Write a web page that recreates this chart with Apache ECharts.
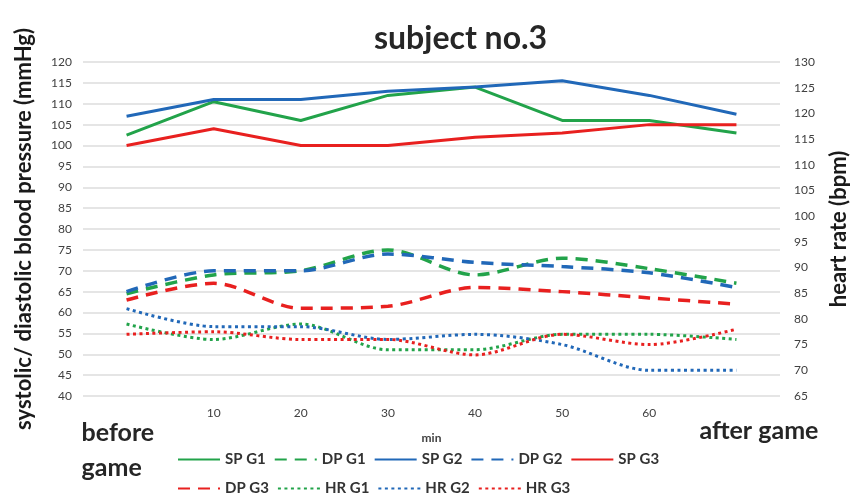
<!DOCTYPE html>
<html>
<head>
<meta charset="utf-8">
<script src="https://cdn.jsdelivr.net/npm/echarts@6/dist/echarts.min.js"></script>
<style>
  html, body { margin: 0; padding: 0; background: #fff; }
  #chart { width: 864px; height: 496px; }
</style>
</head>
<body>
<div id="chart"></div>
<script>
// Time points (minutes into the game)
const categories = ['before game', '10', '20', '30', '40', '50', '60', 'after game'];

// Blood pressure, mmHg (left axis)
const spG1 = [102.5, 110.5, 106, 112, 114, 106, 106, 103];
const dpG1 = [64.5, 69, 70, 75, 69, 73, 70.5, 67];
const spG2 = [107, 111, 111, 113, 114, 115.5, 112, 107.5];
const dpG2 = [65, 70, 70, 74, 72, 71, 69.5, 66];
const spG3 = [100, 104, 100, 100, 102, 103, 105, 105];
const dpG3 = [63, 67, 61, 61.5, 66, 65, 63.5, 62];

// Heart rate, bpm (right axis)
const hrG1 = [79, 76, 79, 74, 74, 77, 77, 76];
const hrG2 = [82, 78.5, 78.5, 76, 77, 75, 70, 70];
const hrG3 = [77, 77.5, 76, 76, 73, 77, 75, 78];

const GREEN = '#22a34a', BLUE = '#2168b8', RED = '#e8201f';
const FONT = 'Lato, "Open Sans", sans-serif';

function solid(name, data, color) {
  return { name, type: 'line', data, yAxisIndex: 0, symbol: 'none',
    lineStyle: { color, width: 3 }, itemStyle: { color } };
}
function dashed(name, data, color) {
  return { name, type: 'line', data, yAxisIndex: 0, symbol: 'none', smooth: 0.3,
    lineStyle: { color, width: 3.5, type: [12, 8] }, itemStyle: { color } };
}
function dotted(name, data, color) {
  return { name, type: 'line', data, yAxisIndex: 1, symbol: 'none', smooth: 0.3,
    lineStyle: { color, width: 3, type: [3, 3.5] }, itemStyle: { color } };
}

const bigLabel = { fontFamily: FONT, fontSize: 25, fontWeight: 'bold', color: '#262626' };

const chart = echarts.init(document.getElementById('chart'), null, { renderer: 'canvas' });
chart.setOption({
  animation: false,
  backgroundColor: '#fff',
  textStyle: { fontFamily: FONT },
  title: {
    text: 'subject no.3', left: 369, top: 18,
    textStyle: { fontFamily: FONT, fontSize: 32, fontWeight: 'bold', color: '#262626' }
  },
  grid: { left: 83, right: 84, top: 62, bottom: 100 },
  legend: {
    left: 177, top: 449, width: 540, padding: 0,
    itemWidth: 42, itemHeight: 14, itemGap: 8,
    itemStyle: { opacity: 0 },
    textStyle: { fontFamily: FONT, fontSize: 15, fontWeight: 'bold', color: '#333', lineHeight: 21 },
    data: ['SP G1', 'DP G1', 'SP G2', 'DP G2', 'SP G3', 'DP G3', 'HR G1', 'HR G2', 'HR G3']
  },
  xAxis: {
    type: 'category', data: categories, boundaryGap: true,
    name: 'min', nameLocation: 'middle', nameGap: 36, nameMoveOverlap: false,
    nameTextStyle: { fontFamily: FONT, fontSize: 12, fontWeight: 'bold', color: '#404040' },
    axisLine: { show: false }, axisTick: { show: false },
    axisLabel: {
      interval: 0, hideOverlap: false, margin: 10,
      fontFamily: FONT, fontSize: 12, color: '#404040', lineHeight: 14,
      formatter: function (v, i) {
        if (i === 0) {
          const parts = v.split(' ');
          return '{b1|' + parts[0] + '}\n{b2|' + parts[1] + '}';
        }
        if (i === categories.length - 1) return '{a|' + v + '}';
        return v;
      },
      rich: {
        b1: Object.assign({ lineHeight: 54, width: 90, align: 'left' }, bigLabel),
        b2: Object.assign({ lineHeight: 16, width: 90, align: 'left' }, bigLabel),
        a: Object.assign({ lineHeight: 50, width: 164, align: 'right' }, bigLabel)
      }
    }
  },
  yAxis: [
    {
      type: 'value', min: 40, max: 120, interval: 5, position: 'left',
      name: 'systolic/ diastolic blood pressure (mmHg)', nameLocation: 'middle', nameGap: 48,
      nameMoveOverlap: false,
      nameTextStyle: { fontFamily: FONT, fontSize: 22, fontWeight: 'bold', color: '#1a1a1a' },
      axisLine: { show: false }, axisTick: { show: false },
      axisLabel: { margin: 11, fontFamily: FONT, fontSize: 12, color: '#404040' },
      splitLine: { lineStyle: { color: '#dcdcdc', width: 1.5 } }
    },
    {
      type: 'value', min: 65, max: 130, interval: 5, position: 'right',
      name: 'heart rate (bpm)', nameLocation: 'middle', nameGap: 48,
      nameMoveOverlap: false,
      nameTextStyle: { fontFamily: FONT, fontSize: 22, fontWeight: 'bold', color: '#1a1a1a' },
      axisLine: { show: false }, axisTick: { show: false },
      axisLabel: { margin: 14, fontFamily: FONT, fontSize: 12, color: '#404040' },
      splitLine: { show: false }
    }
  ],
  series: [
    solid('SP G1', spG1, GREEN),
    dashed('DP G1', dpG1, GREEN),
    solid('SP G2', spG2, BLUE),
    dashed('DP G2', dpG2, BLUE),
    solid('SP G3', spG3, RED),
    dashed('DP G3', dpG3, RED),
    dotted('HR G1', hrG1, GREEN),
    dotted('HR G2', hrG2, BLUE),
    dotted('HR G3', hrG3, RED)
  ]
});
</script>
</body>
</html>
